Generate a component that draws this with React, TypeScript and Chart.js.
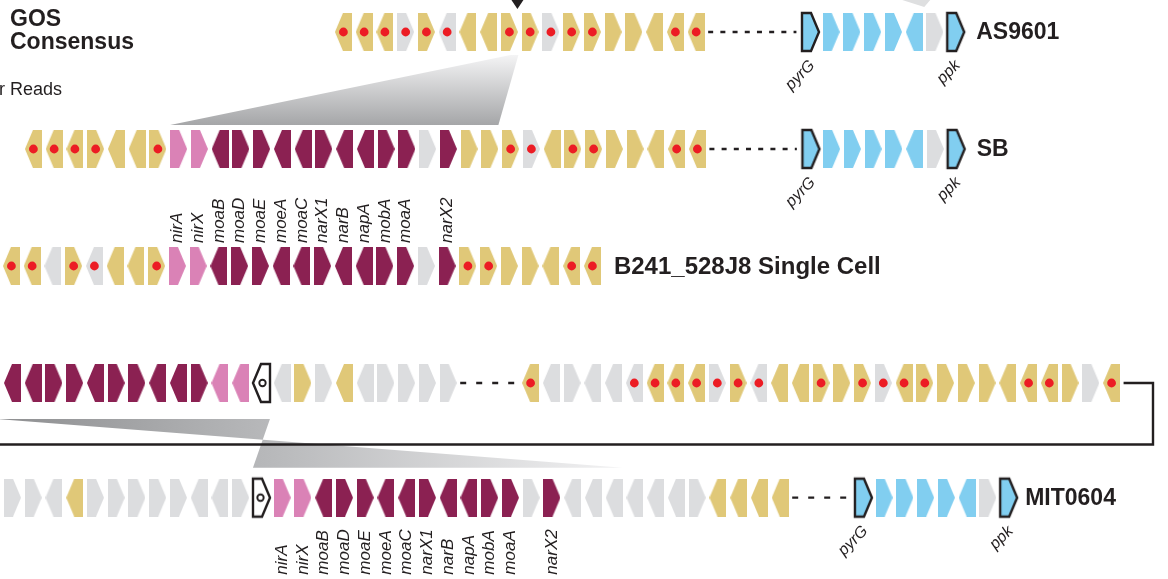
import React, { useEffect, useRef } from 'react';
import { Chart, registerables } from 'chart.js';

Chart.register(...registerables);

// ---------------- data ----------------
// gene code: colour letter + strand + optional '*' (red dot = GOS-consensus hit)
// Y consensus yellow, G grey, P pink (nir), M maroon (moa/nar), C cyan, O outlined cyan, W outlined white (tRNA-like)
const AS9601_CORE = ['YL*', 'YL*', 'YL*', 'GR*', 'YR*', 'GL*', 'YL', 'YL', 'YR*', 'YR*', 'GR*', 'YR*', 'YR*', 'YR', 'YR', 'YL', 'YL*', 'YL*'];
const SB_CORE = ['YL*', 'YL*', 'YL*', 'YR*', 'YL', 'YL', 'YR*', 'PR', 'PR', 'ML', 'MR', 'MR', 'ML', 'ML', 'MR', 'ML', 'ML', 'MR', 'MR', 'GR', 'MR', 'YR', 'YR', 'YR*', 'GR*', 'YL', 'YR*', 'YR*', 'YR', 'YR', 'YL', 'YL*', 'YL*'];
const B241_CORE = ['YL*', 'YL*', 'GL', 'YR*', 'GL*', 'YL', 'YL', 'YR*', 'PR', 'PR', 'ML', 'MR', 'MR', 'ML', 'ML', 'MR', 'ML', 'ML', 'MR', 'MR', 'GR', 'MR', 'YR*', 'YR*', 'YR', 'YR', 'YL', 'YL*', 'YL*'];
const MIT_UPPER_LEFT = ['ML', 'ML', 'MR', 'MR', 'ML', 'MR', 'MR', 'ML', 'ML', 'MR', 'PL', 'PL', 'WL', 'GL', 'YR', 'GR', 'YL', 'GL', 'GR', 'GR', 'GR', 'GR'];
const MIT_UPPER_RIGHT = ['YL*', 'GL', 'GR', 'GL', 'GL', 'GL*', 'YL*', 'YL*', 'YL*', 'GR*', 'YR*', 'GL*', 'YL', 'YL', 'YR*', 'YR', 'YR*', 'GR*', 'YL*', 'YR*', 'YR', 'YR', 'YR', 'YL', 'YL*', 'YL*', 'YR', 'GR', 'YL*'];
const MIT_LOWER = ['GR', 'GR', 'GL', 'YL', 'GR', 'GR', 'GR', 'GR', 'GR', 'GL', 'GL', 'GR', 'WR', 'PR', 'PR', 'ML', 'MR', 'MR', 'ML', 'ML', 'MR', 'ML', 'ML', 'MR', 'MR', 'GR', 'MR', 'GL', 'GL', 'GL', 'GL', 'GL', 'GL', 'GR', 'YL', 'YL', 'YL', 'YL'];
const PYRG_PPK = ['OR', 'CR', 'CR', 'CR', 'CR', 'CL', 'GR', 'OR'];

const NAR_LABELS = ['nirA', 'nirX', 'moaB', 'moaD', 'moaE', 'moeA', 'moaC', 'narX1', 'narB', 'napA', 'mobA', 'moaA', '', 'narX2'];
const PYRG_PPK_LABELS = ['pyrG', '', '', '', '', '', '', 'ppk'];
const ROW_NAMES = ['AS9601', 'SB', 'B241_528J8 Single Cell', '', 'MIT0604'];

// blocks of contiguous genes: row index, gene slot of first gene, genes
const BLOCK_ROWS = [0, 0, 1, 1, 2, 3, 3, 4, 4];
const BLOCK_STARTS = [16.55, 39.06, 1.61, 39.08, 0.55, 0.6, 25.57, 0.6, 41.61];
const BLOCK_GENES = [AS9601_CORE, PYRG_PPK, SB_CORE, PYRG_PPK, B241_CORE, MIT_UPPER_LEFT, MIT_UPPER_RIGHT, MIT_LOWER, PYRG_PPK];
const DASHED_GAPS = [[0, 1], [2, 3], [5, 6], [7, 8]];

// ---------------- style ----------------
const PITCH = 20.75;
const W = 1168;
const H = 579;
const TRACK_Y = [0, 1, 2, 3, 3.98]; // vertical track of each row
const CONNECTOR_Y = 3.525; // track position of the wrap-around line
const GENE_W = 17;
const GENE_H = 38;
const TIP = 8;
const INK = '#231F20';
const FONT = "'Liberation Sans', Arial, Helvetica, sans-serif";
const COLORS: Record<string, string> = {
  Y: '#E0C878', G: '#DCDDDF', P: '#DA82B6', M: '#8B2152', C: '#81CEF0', O: '#81CEF0', W: '#FFFFFF',
};
const GAP_DASH = [[5, 7.2], [5, 7.2], [6, 10], [6, 10]];
const NAME_STYLE = [
  { block: 1, gap: 12, size: 23 },
  { block: 3, gap: 12, size: 23 },
  { block: 4, gap: 13, size: 24 },
  { block: 8, gap: 8, size: 23 },
];

function makeGeneImage(code: string): HTMLCanvasElement {
  const col = code[0];
  const dir = code[1];
  const outlined = col === 'O' || col === 'W';
  const pad = outlined ? 4 : 0;
  const c = document.createElement('canvas');
  c.width = GENE_W + pad * 2;
  c.height = GENE_H + pad * 2;
  const g = c.getContext('2d')!;
  g.translate(pad, pad);
  g.beginPath();
  if (dir === 'L') {
    g.moveTo(0, GENE_H / 2); g.lineTo(TIP, 0); g.lineTo(GENE_W, 0); g.lineTo(GENE_W, GENE_H); g.lineTo(TIP, GENE_H);
  } else {
    g.moveTo(0, 0); g.lineTo(GENE_W - TIP, 0); g.lineTo(GENE_W, GENE_H / 2); g.lineTo(GENE_W - TIP, GENE_H); g.lineTo(0, GENE_H);
  }
  g.closePath();
  g.fillStyle = COLORS[col];
  g.fill();
  if (outlined) {
    g.lineWidth = 2.4;
    g.strokeStyle = INK;
    g.lineJoin = 'miter';
    g.stroke();
  }
  if (col === 'W') {
    g.beginPath();
    g.arc(GENE_W / 2 + (dir === 'L' ? 1 : -1), GENE_H / 2, 3.2, 0, Math.PI * 2);
    g.lineWidth = 1.9;
    g.stroke();
  }
  return c;
}

// track 0 at 32px, one track = 117px
const rowSpan = H / 117;
const Y_MIN = -(32 / H) * rowSpan;
const Y_MAX = Y_MIN + rowSpan;

export default function App() {
  const ref = useRef<HTMLCanvasElement>(null);

  useEffect(() => {
    document.body.style.margin = '0';
    document.body.style.overflow = 'hidden';
    const images: Record<string, HTMLCanvasElement> = {};
    const genePts: any[] = [];
    const dotPts: any[] = [];
    BLOCK_GENES.forEach((genes, b) => {
      genes.forEach((code, i) => {
        const key = code.slice(0, 2);
        if (!images[key]) images[key] = makeGeneImage(key);
        const pt = { x: BLOCK_STARTS[b] + i, y: TRACK_Y[BLOCK_ROWS[b]], g: key };
        genePts.push(pt);
        if (code.endsWith('*')) dotPts.push({ x: pt.x, y: pt.y });
      });
    });
    const edge = 12 / PITCH;
    const lineDatasets: any[] = DASHED_GAPS.map(([a, b], k) => ({
      type: 'scatter',
      data: [
        { x: BLOCK_STARTS[a] + BLOCK_GENES[a].length - 1 + edge, y: TRACK_Y[BLOCK_ROWS[a]] },
        { x: BLOCK_STARTS[b] - edge - 0.1, y: TRACK_Y[BLOCK_ROWS[b]] },
      ],
      showLine: true, pointRadius: 0, borderColor: INK, borderWidth: 2.4, borderDash: GAP_DASH[k], order: 3,
    }));
    const lastUpper = BLOCK_STARTS[6] + BLOCK_GENES[6].length - 1 + edge;
    const rightX = 1153 / PITCH;
    lineDatasets.push({
      type: 'scatter',
      data: [
        { x: lastUpper, y: TRACK_Y[3] }, { x: rightX, y: TRACK_Y[3] }, { x: rightX, y: CONNECTOR_Y }, { x: -1, y: CONNECTOR_Y },
      ],
      showLine: true, pointRadius: 0, borderColor: INK, borderWidth: 2.4, order: 3,
    });

    const decor = {
      id: 'decor',
      beforeDatasetsDraw(chart: any) {
        const { ctx } = chart;
        const xs = chart.scales.x;
        const ys = chart.scales.y;
        const X = (v: number) => xs.getPixelForValue(v);
        const Y = (r: number) => ys.getPixelForValue(TRACK_Y[r]);
        const half = GENE_W / 2;
        ctx.save();
        // wedge GOS consensus -> SB
        const apex = X(BLOCK_STARTS[0] + 8);
        const topY = Y(0) + 23;
        const botY = Y(1) - 24;
        const bl = X(BLOCK_STARTS[2] + 7) - half;
        const br = X(BLOCK_STARTS[2] + 22) + half;
        let grad = ctx.createLinearGradient(0, topY, 0, botY);
        grad.addColorStop(0, '#f4f4f5');
        grad.addColorStop(1, '#a5a6a8');
        ctx.fillStyle = grad;
        ctx.beginPath();
        ctx.moveTo(apex + 1, topY);
        ctx.lineTo(apex + 9, topY);
        ctx.lineTo(br, botY);
        ctx.lineTo(bl, botY);
        ctx.closePath();
        ctx.fill();
        // bow-tie wedge MIT upper (reversed) -> MIT lower
        const t = Y(3) + 36;
        const bt = Y(4) - 30;
        const tl = X(BLOCK_STARTS[5]) - half - 6;
        const tr = X(BLOCK_STARTS[5] + 12) + half;
        const bL = X(BLOCK_STARTS[7] + 12) - half;
        const bR = X(BLOCK_STARTS[7] + 29) + half;
        grad = ctx.createLinearGradient(tl, 0, bR, 0);
        grad.addColorStop(0, '#8e8f91');
        grad.addColorStop(0.45, '#b9babc');
        grad.addColorStop(1, '#f2f2f3');
        ctx.fillStyle = grad;
        ctx.beginPath();
        ctx.moveTo(tl, t);
        ctx.lineTo(tr, t);
        ctx.lineTo(bL, bt);
        ctx.lineTo(bR, bt);
        ctx.closePath();
        ctx.fill();
        // pointer triangle at top
        const px = apex + 8;
        ctx.fillStyle = INK;
        ctx.beginPath();
        ctx.moveTo(px - 6, 0);
        ctx.lineTo(px + 6, 0);
        ctx.lineTo(px, 9);
        ctx.closePath();
        ctx.fill();
        // light wedge fragment top right
        const fx = X(BLOCK_STARTS[1] + 5);
        ctx.fillStyle = '#dedfe0';
        ctx.beginPath();
        ctx.moveTo(fx - 12, 0);
        ctx.lineTo(fx + 16, 0);
        ctx.lineTo(fx + 10, 7);
        ctx.closePath();
        ctx.fill();
        ctx.restore();
      },
      afterDatasetsDraw(chart: any) {
        const { ctx } = chart;
        const xs = chart.scales.x;
        const ys = chart.scales.y;
        const X = (v: number) => xs.getPixelForValue(v);
        const Y = (r: number) => ys.getPixelForValue(TRACK_Y[r]);
        ctx.save();
        ctx.fillStyle = INK;
        ctx.textAlign = 'left';
        ctx.textBaseline = 'alphabetic';
        ctx.font = `bold 23px ${FONT}`;
        ctx.fillText('GOS', 10, Y(0) - 6);
        ctx.fillText('Consensus', 10, Y(0) + 17);
        ctx.font = `18px ${FONT}`;
        ctx.fillText('r Reads', -1, Y(0) + 63);

        // row names
        ctx.textBaseline = 'middle';
        NAME_STYLE.forEach(({ block, gap, size }) => {
          const name = ROW_NAMES[BLOCK_ROWS[block]];
          ctx.font = `bold ${size}px ${FONT}`;
          const x = X(BLOCK_STARTS[block] + BLOCK_GENES[block].length - 1) + GENE_W / 2 + gap;
          ctx.fillText(name, x, Y(BLOCK_ROWS[block]) + 1);
        });

        // pyrG / ppk diagonal labels
        ctx.font = `italic 16px ${FONT}`;
        [1, 3, 8].forEach((b) => {
          PYRG_PPK_LABELS.forEach((lab, i) => {
            if (!lab) return;
            ctx.save();
            ctx.translate(X(BLOCK_STARTS[b] + i) + 2, Y(BLOCK_ROWS[b]) + 31);
            ctx.rotate(-Math.PI / 4);
            ctx.textAlign = 'right';
            ctx.textBaseline = 'middle';
            ctx.fillText(lab, 0, 0);
            ctx.restore();
          });
        });

        // nir / moa / nar vertical labels
        ctx.font = `italic 17px ${FONT}`;
        const vertical = (b: number, first: number, y0: number) => {
          NAR_LABELS.forEach((lab, i) => {
            if (!lab) return;
            ctx.save();
            ctx.translate(X(BLOCK_STARTS[b] + first + i), y0);
            ctx.rotate(-Math.PI / 2);
            ctx.textAlign = 'left';
            ctx.textBaseline = 'middle';
            ctx.fillText(lab, 0, 0);
            ctx.restore();
          });
        };
        vertical(4, 8, Y(2) - 23);
        vertical(7, 13, Y(4) + 77);
        ctx.restore();
      },
    };

    const chart = new Chart(ref.current!, {
      type: 'scatter',
      data: {
        datasets: [
          {
            data: dotPts, pointStyle: 'circle', pointRadius: 4.4, pointBackgroundColor: '#EC1C24',
            pointBorderWidth: 0, order: 0,
          } as any,
          {
            data: genePts, pointRadius: 10, pointBorderWidth: 0,
            pointStyle: (c: any) => (c.raw && c.raw.g ? images[c.raw.g] : 'circle'),
            order: 1,
          } as any,
          ...lineDatasets,
        ],
      },
      options: {
        animation: false,
        responsive: false,
        devicePixelRatio: 1,
        events: [],
        layout: { padding: 0, autoPadding: false },
        plugins: { legend: { display: false }, tooltip: { enabled: false } },
        scales: {
          x: { type: 'linear', min: 0, max: W / PITCH, display: false },
          y: { type: 'linear', min: Y_MIN, max: Y_MAX, reverse: true, display: false },
        },
      },
      plugins: [decor],
    });
    return () => chart.destroy();
  }, []);

  return <canvas ref={ref} width={W} height={H} style={{ display: 'block', width: W, height: H }} />;
}
